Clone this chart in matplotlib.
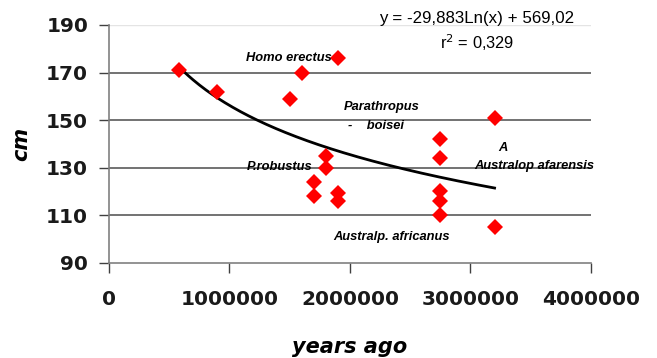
import numpy as np
import matplotlib
matplotlib.use("Agg")
import matplotlib.pyplot as plt

# Fossil hominin stature data: age (years ago) and height (cm)
years_ago = [580000, 900000, 1500000, 1600000, 1900000,
             1700000, 1700000, 1800000, 1800000, 1900000, 1900000,
             2750000, 2750000, 2750000, 2750000, 2750000,
             3200000, 3200000]
height_cm = [171, 162, 159, 170, 176,
             124, 118, 135, 130, 119.5, 116,
             142, 134, 120, 116, 110,
             151, 105]

# Logarithmic trend: y = a*ln(x) + b
trend_a = -29.883
trend_b = 569.02
r_squared = 0.329

x_ticks = [0, 1000000, 2000000, 3000000, 4000000]
y_ticks = [90, 110, 130, 150, 170, 190]

# Species labels and their anchor positions in data units
labels = ["Homo erectus", "Parathropus", "-    boisei", "P.robustus",
          "A", "Australop afarensis", "Australp. africanus"]
label_x = [1140000, 1950000, 1980000, 1140000, 3230000, 3030000, 1860000]
label_y = [176, 155.5, 147.3, 130.4, 138.2, 130.7, 101]

plt.rcParams["font.family"] = ["Liberation Sans", "DejaVu Sans"]

fig = plt.figure(figsize=(6.57, 3.58), dpi=100)
ax = fig.add_axes([0.1659, 0.2662, 0.8995 - 0.1659, 0.9302 - 0.2662])

ax.set_xlim(x_ticks[0], x_ticks[-1])
ax.set_ylim(y_ticks[0], y_ticks[-1])

# horizontal gridlines
for yv in y_ticks[1:-1]:
    ax.axhline(yv, color="#5a5a5a", lw=1.2, zorder=1)
ax.axhline(y_ticks[-1], color="#e4e4e4", lw=1.0, zorder=1)

# trend curve over the data range
xs = np.linspace(min(years_ago), max(years_ago), 200)
ax.plot(xs, trend_a * np.log(xs) + trend_b, color="black", lw=2.0, zorder=3)

ax.plot(years_ago, height_cm, linestyle="none", marker="D", ms=8.6,
        color="#ff0000", markeredgewidth=0, zorder=4)

for t, lx, ly in zip(labels, label_x, label_y):
    ax.text(lx, ly, t, fontsize=9.3, fontweight="bold", fontstyle="italic",
            ha="left", va="center", zorder=5, clip_on=False)

eq = f"y = {trend_a:.3f}Ln(x) + {trend_b:.2f}".replace(".", ",")
ax.text(0.763, 1.027, eq, transform=ax.transAxes, fontsize=12.2,
        ha="center", va="center")
ax.text(0.763, 0.925, "r$^2$ = " + f"{r_squared:.3f}".replace(".", ","),
        transform=ax.transAxes, fontsize=11.8, ha="center", va="center")

for side in ("top", "right"):
    ax.spines[side].set_visible(False)
for side in ("left", "bottom"):
    ax.spines[side].set_color("#808080")
    ax.spines[side].set_linewidth(1.2)

ax.set_xticks(x_ticks)
ax.set_xticklabels([str(v) for v in x_ticks])
ax.set_yticks(y_ticks)
ax.tick_params(axis="both", direction="out", length=7, width=1.0,
               color="#404040")
ax.tick_params(axis="x", pad=12.5)
ax.tick_params(axis="y", pad=8)
for lab in ax.get_xticklabels() + ax.get_yticklabels():
    lab.set_fontfamily("DejaVu Sans")
    lab.set_fontsize(14.5)
    lab.set_fontweight("bold")
    lab.set_color("#1a1a1a")

ax.set_xlabel("years ago", fontsize=15, fontweight="bold",
              fontstyle="italic", family="DejaVu Sans", labelpad=20)
ax.set_ylabel("cm", fontsize=15, fontweight="bold", fontstyle="italic",
              family="DejaVu Sans", labelpad=11)

fig.savefig("out.png", dpi=100)
